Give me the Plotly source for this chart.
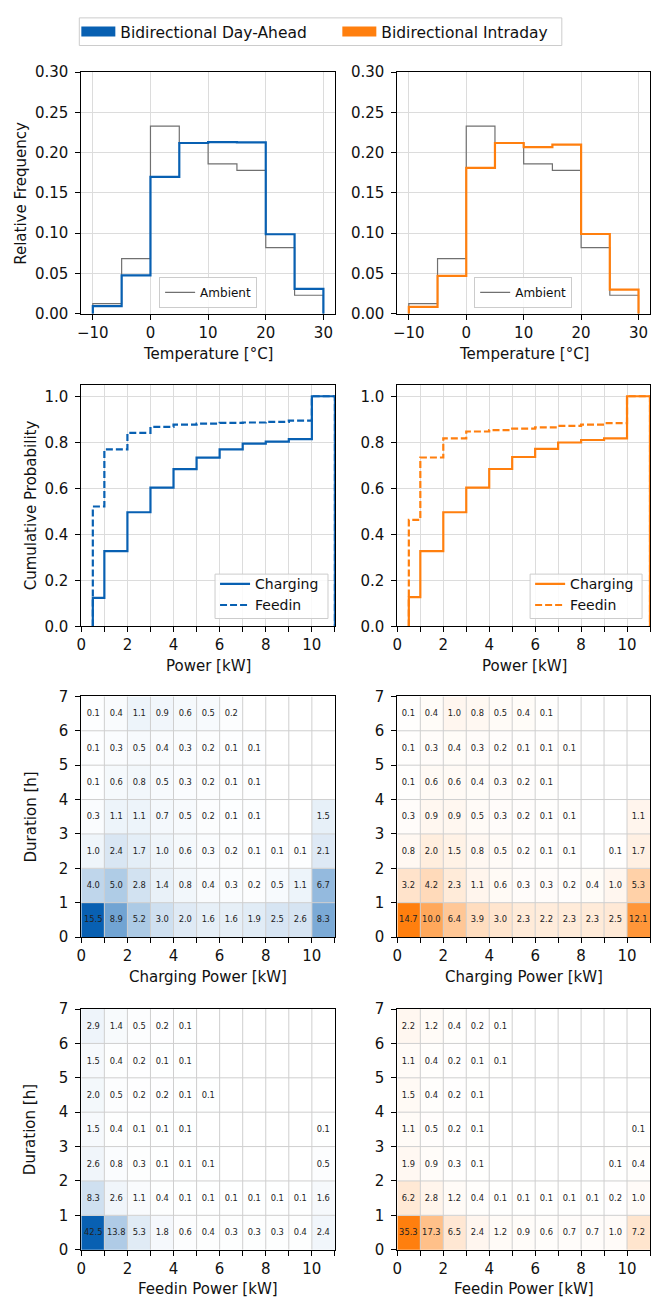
import plotly.graph_objects as go

W, H = 651, 1309
BLUE = '#0860b2'
ORANGE = '#ff7f0e'
GREY = '#707070'
FONT = 'DejaVu Sans'

# ---------------- data ----------------
temp_edges = [-10, -5, 0, 5, 10, 15, 20, 25, 30]
ambient_freq = [0.0126, 0.0685, 0.233, 0.212, 0.186, 0.178, 0.082, 0.023]
da_temp_freq = [0.0094, 0.0477, 0.170, 0.212, 0.213, 0.2128, 0.0987, 0.031]
id_temp_freq = [0.0085, 0.047, 0.181, 0.212, 0.207, 0.210, 0.099, 0.030]

power_edges = [0.5, 1, 2, 3, 4, 5, 6, 7, 8, 9, 10, 11]
da_charging_cdf = [0.124, 0.327, 0.496, 0.603, 0.683, 0.733, 0.769, 0.794, 0.803, 0.814, 1.0]
da_feedin_cdf = [0.521, 0.769, 0.841, 0.867, 0.877, 0.881, 0.884, 0.886, 0.889, 0.894, 1.0]
id_charging_cdf = [0.127, 0.327, 0.496, 0.603, 0.684, 0.736, 0.771, 0.799, 0.810, 0.817, 1.0]
id_feedin_cdf = [0.463, 0.734, 0.817, 0.847, 0.853, 0.859, 0.865, 0.871, 0.877, 0.883, 1.0]

heat_power_edges = list(range(12))   # kW bins 0..11
duration_edges = list(range(8))      # h bins 0..7
N = None
# rows: duration 0-1h (bottom) ... 6-7h (top); columns: power 0-1 ... 10-11 kW
da_charging_heat = [
    [15.5, 8.9, 5.2, 3.0, 2.0, 1.6, 1.6, 1.9, 2.5, 2.6, 8.3],
    [4.0, 5.0, 2.8, 1.4, 0.8, 0.4, 0.3, 0.2, 0.5, 1.1, 6.7],
    [1.0, 2.4, 1.7, 1.0, 0.6, 0.3, 0.2, 0.1, 0.1, 0.1, 2.1],
    [0.3, 1.1, 1.1, 0.7, 0.5, 0.2, 0.1, 0.1, N, N, 1.5],
    [0.1, 0.6, 0.8, 0.5, 0.3, 0.2, 0.1, 0.1, N, N, N],
    [0.1, 0.3, 0.5, 0.4, 0.3, 0.2, 0.1, 0.1, N, N, N],
    [0.1, 0.4, 1.1, 0.9, 0.6, 0.5, 0.2, N, N, N, N],
]
id_charging_heat = [
    [14.7, 10.0, 6.4, 3.9, 3.0, 2.3, 2.2, 2.3, 2.3, 2.5, 12.1],
    [3.2, 4.2, 2.3, 1.1, 0.6, 0.3, 0.3, 0.2, 0.4, 1.0, 5.3],
    [0.8, 2.0, 1.5, 0.8, 0.5, 0.2, 0.1, 0.1, N, 0.1, 1.7],
    [0.3, 0.9, 0.9, 0.5, 0.3, 0.2, 0.1, 0.1, N, N, 1.1],
    [0.1, 0.6, 0.6, 0.4, 0.3, 0.2, 0.1, N, N, N, N],
    [0.1, 0.3, 0.4, 0.3, 0.2, 0.1, 0.1, 0.1, N, N, N],
    [0.1, 0.4, 1.0, 0.8, 0.5, 0.4, 0.1, N, N, N, N],
]
da_feedin_heat = [
    [42.5, 13.8, 5.3, 1.8, 0.6, 0.4, 0.3, 0.3, 0.3, 0.4, 2.4],
    [8.3, 2.6, 1.1, 0.4, 0.1, 0.1, 0.1, 0.1, 0.1, 0.1, 1.6],
    [2.6, 0.8, 0.3, 0.1, 0.1, 0.1, N, N, N, N, 0.5],
    [1.5, 0.4, 0.1, 0.1, 0.1, N, N, N, N, N, 0.1],
    [2.0, 0.5, 0.2, 0.2, 0.1, 0.1, N, N, N, N, N],
    [1.5, 0.4, 0.2, 0.1, 0.1, N, N, N, N, N, N],
    [2.9, 1.4, 0.5, 0.2, 0.1, N, N, N, N, N, N],
]
id_feedin_heat = [
    [35.3, 17.3, 6.5, 2.4, 1.2, 0.9, 0.6, 0.7, 0.7, 1.0, 7.2],
    [6.2, 2.8, 1.2, 0.4, 0.1, 0.1, 0.1, 0.1, 0.1, 0.2, 1.0],
    [1.9, 0.9, 0.3, 0.1, N, N, N, N, N, 0.1, 0.4],
    [1.1, 0.5, 0.2, 0.1, N, N, N, N, N, N, 0.1],
    [1.5, 0.4, 0.2, 0.1, N, N, N, N, N, N, N],
    [1.1, 0.4, 0.2, 0.1, 0.1, N, N, N, N, N, N],
    [2.2, 1.2, 0.4, 0.2, 0.1, N, N, N, N, N, N],
]


def step_xy(edges, vals):
    xs, ys = [edges[0]], [0]
    for i, v in enumerate(vals):
        xs += [edges[i], edges[i + 1]]
        ys += [v, v]
    xs.append(edges[-1])
    ys.append(0)
    return xs, ys


# ---------------- layout geometry (pixels) ----------------
LX = (77, 333)
RX = (396, 651)
ROWS = [(64, 309), (381, 626), (697, 941), (1014, 1258)]


def px(v):
    return v / W


def py(v):
    return 1 - v / H


fig = go.Figure()

# Main legend dummies
fig.add_trace(go.Scatter(x=[None], y=[None], mode='lines', line=dict(color=BLUE, width=10),
                         name='Bidirectional Day-Ahead', legend='legend', xaxis='x', yaxis='y'))
fig.add_trace(go.Scatter(x=[None], y=[None], mode='lines', line=dict(color=ORANGE, width=10),
                         name='Bidirectional Intraday', legend='legend', xaxis='x', yaxis='y'))

# Row 1: temperature histograms
for col, (freq, color, leg) in enumerate([(da_temp_freq, BLUE, 'legend2'), (id_temp_freq, ORANGE, 'legend3')]):
    ax = 1 + col
    xa = 'x' if ax == 1 else f'x{ax}'
    ya = 'y' if ax == 1 else f'y{ax}'
    xs, ys = step_xy(temp_edges, ambient_freq)
    fig.add_trace(go.Scatter(x=xs, y=ys, mode='lines', line=dict(color=GREY, width=1.2),
                             name='Ambient', legend=leg, xaxis=xa, yaxis=ya, hoverinfo='skip'))
    xs, ys = step_xy(temp_edges, freq)
    fig.add_trace(go.Scatter(x=xs, y=ys, mode='lines', line=dict(color=color, width=2.2),
                             showlegend=False, xaxis=xa, yaxis=ya, hoverinfo='skip'))

# Row 2: cumulative distributions
for col, (ch, fe, color, leg) in enumerate([(da_charging_cdf, da_feedin_cdf, BLUE, 'legend4'),
                                            (id_charging_cdf, id_feedin_cdf, ORANGE, 'legend5')]):
    ax = 3 + col
    xa, ya = f'x{ax}', f'y{ax}'
    xs, ys = step_xy(power_edges, ch)
    fig.add_trace(go.Scatter(x=xs, y=ys, mode='lines', line=dict(color=color, width=2.2),
                             name='Charging', legend=leg, xaxis=xa, yaxis=ya, hoverinfo='skip'))
    xs, ys = step_xy(power_edges, fe)
    fig.add_trace(go.Scatter(x=xs, y=ys, mode='lines', line=dict(color=color, width=2.2, dash='7px,3px'),
                             name='Feedin', legend=leg, xaxis=xa, yaxis=ya, hoverinfo='skip'))

# Rows 3/4: heatmaps
heats = [(5, da_charging_heat, BLUE), (6, id_charging_heat, ORANGE),
         (7, da_feedin_heat, BLUE), (8, id_feedin_heat, ORANGE)]
for ax, z, color in heats:
    zmax = max(v for row in z for v in row if v is not None)
    text = [['' if v is None else f'{v:.1f}' for v in row] for row in z]
    fig.add_trace(go.Heatmap(x=heat_power_edges, y=duration_edges, z=z, text=text,
                             texttemplate='%{text}', textfont=dict(size=8.3, color='#222222', family=FONT),
                             colorscale=[[0, '#ffffff'], [1, color]], zmin=0, zmax=zmax,
                             showscale=False, hoverinfo='skip', xaxis=f'x{ax}', yaxis=f'y{ax}'))

axis_common = dict(showline=True, linecolor='black', linewidth=1, mirror=True,
                   ticks='outside', ticklen=5, tickcolor='black', tickwidth=1,
                   gridcolor='#dcdcdc', gridwidth=1, zeroline=False,
                   tickfont=dict(size=15, color='#111111', family=FONT))

layout = dict(width=W, height=H, margin=dict(l=0, r=0, t=0, b=0),
              paper_bgcolor='white', plot_bgcolor='white',
              font=dict(family=FONT, color='#111111'))

for i in range(8):
    ax = i + 1
    row, col = divmod(i, 2)
    dx = LX if col == 0 else RX
    dy = ROWS[row]
    xk = 'xaxis' if ax == 1 else f'xaxis{ax}'
    yk = 'yaxis' if ax == 1 else f'yaxis{ax}'
    xid = 'x' if ax == 1 else f'x{ax}'
    yid = 'y' if ax == 1 else f'y{ax}'
    xa = dict(axis_common, domain=[px(dx[0]), min(1, px(dx[1]))], anchor=yid)
    ya = dict(axis_common, domain=[py(dy[1]), py(dy[0])], anchor=xid, ticklabelstandoff=4)
    if row == 0:
        xa.update(range=[-12, 32], tickvals=[-10, 0, 10, 20, 30], showgrid=True)
        ya.update(range=[0, 0.30], dtick=0.05, tickformat='.2f', showgrid=True)
    elif row == 1:
        xa.update(range=[0, 11], tick0=0, dtick=2, showgrid=True,
                  minor=dict(dtick=1, tick0=0, ticks='outside', ticklen=5, tickcolor='black',
                             showgrid=True, gridcolor='#dcdcdc'))
        ya.update(range=[0, 1.05], tick0=0, dtick=0.2, tickformat='.1f', showgrid=True)
    else:
        xa.update(range=[0, 11], tick0=0, dtick=2, showgrid=False,
                  minor=dict(dtick=1, tick0=0, ticks='outside', ticklen=5, tickcolor='black'))
        ya.update(range=[0, 7], tick0=0, dtick=1, showgrid=False)
    layout[xk] = xa
    layout[yk] = ya

# legends (frames drawn as shapes below)
clear = dict(bgcolor='rgba(0,0,0,0)', borderwidth=0)
box = dict(bgcolor='rgba(255,255,255,0.85)', bordercolor='#cccccc', borderwidth=1)
layout['legend'] = dict(clear, orientation='h', x=px(72), y=py(6), xanchor='left', yanchor='top',
                        font=dict(size=15.5, family=FONT, color='#111111'), itemclick=False,
                        itemwidth=34, entrywidth=212, entrywidthmode='pixels')
layout['legend2'] = dict(box, x=px(205), y=py(303), xanchor='center', yanchor='bottom',
                         font=dict(size=12, family=FONT, color='#111111'))
layout['legend3'] = dict(box, x=px(523), y=py(303), xanchor='center', yanchor='bottom',
                         font=dict(size=12, family=FONT, color='#111111'))
layout['legend4'] = dict(clear, x=px(212), y=py(567), xanchor='left', yanchor='top',
                         font=dict(size=14, family=FONT, color='#111111'), tracegroupgap=0)
layout['legend5'] = dict(clear, x=px(530), y=py(567), xanchor='left', yanchor='top',
                         font=dict(size=14, family=FONT, color='#111111'), tracegroupgap=0)

shapes = []
# legend frames
for x0, x1, y0, y1 in [(75, 562, 9, 37), (212, 326, 573, 618), (530, 643, 573, 618)]:
    shapes.append(dict(type='rect', xref='paper', yref='paper', x0=px(x0), x1=px(x1),
                       y0=py(y1), y1=py(y0), line=dict(color='#cccccc', width=1),
                       fillcolor='rgba(255,255,255,0.85)', layer='above'))
# grid lines drawn above heatmap cells
for ax in [5, 6, 7, 8]:
    for xv in heat_power_edges[1:-1]:
        shapes.append(dict(type='line', xref=f'x{ax}', yref=f'y{ax}', x0=xv, x1=xv,
                           y0=duration_edges[0], y1=duration_edges[-1],
                           line=dict(color='#cfcfcf', width=1), layer='above'))
    for yv in duration_edges[1:-1]:
        shapes.append(dict(type='line', xref=f'x{ax}', yref=f'y{ax}', y0=yv, y1=yv,
                           x0=heat_power_edges[0], x1=heat_power_edges[-1],
                           line=dict(color='#cfcfcf', width=1), layer='above'))
layout['shapes'] = shapes

# axis titles as annotations
ann = []
title_font = dict(size=15, family=FONT, color='#111111')
for cx in [(LX[0] + LX[1]) / 2, (RX[0] + 396 + 256) / 2]:
    for label, yy in [('Temperature [°C]', 350), ('Power [kW]', 666),
                      ('Charging Power [kW]', 982), ('Feedin Power [kW]', 1298)]:
        ann.append(dict(text=label, x=px(cx), y=py(yy), xref='paper', yref='paper',
                        showarrow=False, xanchor='center', yanchor='middle', font=title_font))
for label, xx, yy in [('Relative Frequency', 16, (ROWS[0][0] + ROWS[0][1]) / 2),
                      ('Cumulative Probability', 26, (ROWS[1][0] + ROWS[1][1]) / 2),
                      ('Duration [h]', 26, (ROWS[2][0] + ROWS[2][1]) / 2),
                      ('Duration [h]', 26, (ROWS[3][0] + ROWS[3][1]) / 2)]:
    ann.append(dict(text=label, x=px(xx), y=py(yy), xref='paper', yref='paper', textangle=-90,
                    showarrow=False, xanchor='center', yanchor='middle', font=title_font))
layout['annotations'] = ann

fig.update_layout(**layout)
fig.write_html('out.html')
